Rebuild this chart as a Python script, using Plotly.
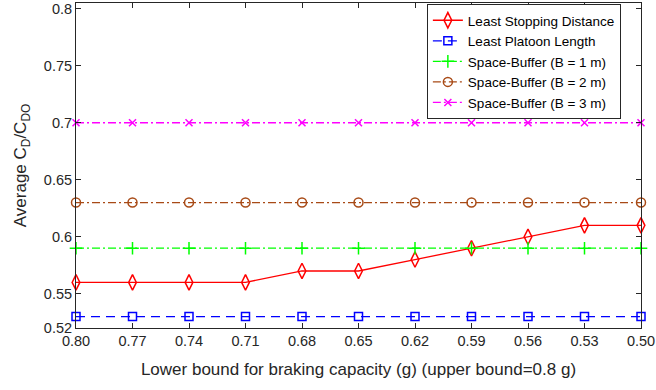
import plotly.graph_objects as go

x_vals = [0.80, 0.77, 0.74, 0.71, 0.68, 0.65, 0.62, 0.59, 0.56, 0.53, 0.50]
x_labels = ["0.80", "0.77", "0.74", "0.71", "0.68", "0.65", "0.62", "0.59", "0.56", "0.53", "0.50"]

least_stopping = [0.56, 0.56, 0.56, 0.56, 0.57, 0.57, 0.58, 0.59, 0.60, 0.61, 0.61]
least_platoon = [0.53] * 11
space_b1 = [0.59] * 11
space_b2 = [0.63] * 11
space_b3 = [0.70] * 11

y_ticks = [0.52, 0.55, 0.60, 0.65, 0.70, 0.75, 0.80]
y_labels = ["0.52", "0.55", "0.6", "0.65", "0.7", "0.75", "0.8"]

dd = "8px,3px,2px,3px"
series = [
    ("Least Stopping Distance", least_stopping, "#FF0000", "solid", "diamond-tall-open", 11),
    ("Least Platoon Length", least_platoon, "#0000FF", "9px,6px", "square-open", 8),
    ("Space-Buffer (B = 1 m)", space_b1, "#00FF00", dd, "cross-thin", 9),
    ("Space-Buffer (B = 2 m)", space_b2, "#A84A16", dd, "circle-open", 9),
    ("Space-Buffer (B = 3 m)", space_b3, "#FF00FF", dd, "x-thin", 7),
]

fig = go.Figure()
for name, ys, col, dash, sym, sz in series:
    fig.add_trace(go.Scatter(
        x=x_vals, y=ys, name=name, mode="lines+markers",
        line=dict(color=col, dash=dash, width=1.3),
        marker=dict(symbol=sym, size=sz, color=col, line=dict(color=col, width=1.5)),
        cliponaxis=False,
    ))

axcol = "#262626"
fig.update_layout(
    width=656, height=390,
    margin=dict(l=76, r=15, t=1, b=62),
    paper_bgcolor="white", plot_bgcolor="white",
    font=dict(family="Liberation Sans, Arial, sans-serif", size=14, color=axcol),
    showlegend=True,
    legend=dict(
        x=0.621, y=0.997, xanchor="left", yanchor="top",
        bgcolor="white", bordercolor=axcol, borderwidth=1,
        font=dict(size=13.5, color="#000000"),
        tracegroupgap=0, itemwidth=30,
    ),
    xaxis=dict(
        range=[0.80, 0.50], tickvals=x_vals, ticktext=x_labels,
        showgrid=False, zeroline=False, showline=True, linecolor=axcol, linewidth=1,
        mirror="allticks", ticks="inside", ticklen=5, tickcolor=axcol,
        tickfont=dict(size=14.5),
        title=dict(text="Lower bound for braking capacity (g) (upper bound=0.8 g)", standoff=14),
    ),
    yaxis=dict(
        range=[0.52, 0.805], tickvals=y_ticks, ticktext=y_labels,
        showgrid=False, zeroline=False, showline=True, linecolor=axcol, linewidth=1,
        mirror="allticks", ticks="inside", ticklen=5, tickcolor=axcol,
        tickfont=dict(size=14.5), ticklabeloverflow="allow",
        title=dict(text="Average C<sub>D</sub>/C<sub>DO</sub>", standoff=12),
    ),
)

fig.write_html("out.html")
